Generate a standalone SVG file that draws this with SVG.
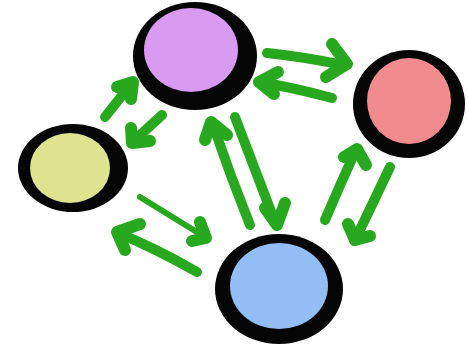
<svg xmlns="http://www.w3.org/2000/svg" width="468" height="347" viewBox="0 0 468 347">
<style>
.ring{fill:#050505}
.shaft{fill:none;stroke:#27a81f;stroke-width:10;stroke-linecap:round}
.thin{stroke-width:6}
.head{fill:none;stroke:#27a81f;stroke-width:12;stroke-linecap:round;stroke-linejoin:round}
</style>
<rect width="468" height="347" fill="#ffffff"/>
<g id="connectors">
  <path class="shaft" d="M267,53 Q305,57 343,65"/><path class="head" d="M332,44 L347,64 L326,77"/>
  <path class="shaft" d="M332,98 Q295,88 260,82"/><path class="head" d="M278,72 L259,82 L274,94"/>
  <path class="shaft" d="M105,117 L128,88"/><path class="head" d="M117,87 L133,82 L131,99"/>
  <path class="shaft" d="M162,115 L137,138"/><path class="head" d="M131,128 L132,143 L150,141"/>
  <path class="shaft" d="M250,225 Q230,175 213,125"/><path class="head" d="M205,140 L211,122 L227,135"/>
  <path class="shaft" d="M235,117 Q255,170 275,222"/><path class="head" d="M265,208 L277,225 L285,203"/>
  <path class="shaft" d="M325,220 Q340,185 355,152"/><path class="head" d="M344,157 L357,149 L366,165"/>
  <path class="shaft" d="M390,167 Q372,205 356,238"/><path class="head" d="M348,224 L355,240 L370,236"/>
  <path class="shaft thin" d="M140,197 L200,234"/><path class="head" d="M200,222 L206,238 L192,241"/>
  <path class="shaft" d="M197,272 Q155,248 118,233"/><path class="head" d="M140,224 L117,232 L125,250"/>
</g>
<g id="purple">
  <ellipse class="ring" cx="195" cy="56" rx="62" ry="54"/>
  <ellipse cx="191" cy="50" rx="47" ry="42" fill="#d99bf2"/>
</g>
<g id="red">
  <ellipse class="ring" cx="409" cy="104" rx="56" ry="54"/>
  <ellipse cx="409" cy="101" rx="42" ry="43" fill="#f28b8d"/>
</g>
<g id="yellow">
  <ellipse class="ring" cx="73" cy="168" rx="55" ry="44"/>
  <ellipse cx="70" cy="168" rx="40" ry="35" fill="#dde38e"/>
</g>
<g id="blue">
  <ellipse class="ring" cx="279" cy="289" rx="64" ry="55"/>
  <ellipse cx="279" cy="286" rx="49" ry="43" fill="#92bdf5"/>
</g>
</svg>
